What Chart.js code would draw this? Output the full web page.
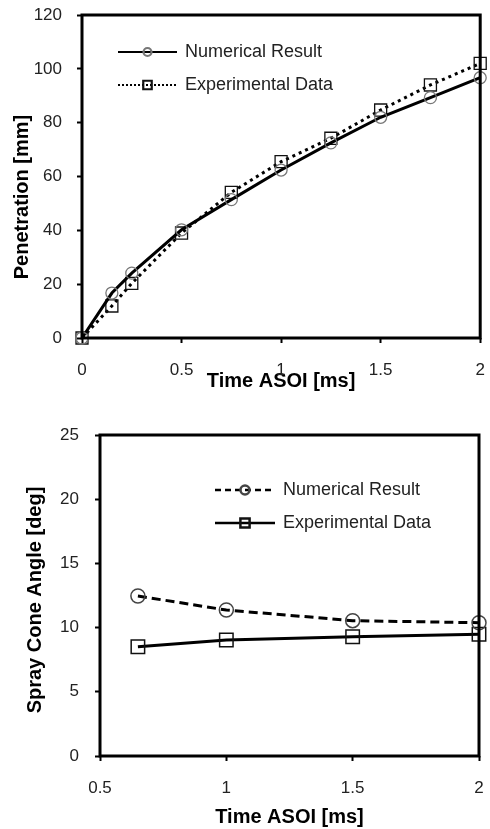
<!DOCTYPE html>
<html lang="en">
<head>
<meta charset="UTF-8">
<title>Spray penetration and cone angle</title>
<script src="https://cdn.jsdelivr.net/npm/chart.js"></script>
<style>
  body { margin: 0; background: #fff; }
  .wrap { position: relative; width: 490px; height: 829px; overflow: hidden; }
  #penChart { position: absolute; left: 0; top: 0; }
  #coneChart { position: absolute; left: 0; top: 410px; }
</style>
</head>
<body>
<div class="wrap">
  <canvas id="penChart" width="490" height="410"></canvas>
  <canvas id="coneChart" width="490" height="419"></canvas>
</div>
<script>
// tip penetration vs time after start of injection
const penTime = [0, 0.15, 0.25, 0.5, 0.75, 1, 1.25, 1.5, 1.75, 2];
const penNumerical = [0, 16.7, 24.1, 40.2, 51.4, 62.4, 72.5, 82.0, 89.3, 96.7];
const penExperimental = [0, 11.9, 20.3, 39.0, 54.1, 65.5, 74.2, 84.7, 94.0, 102.0];

// spray cone angle vs time
const coneTime = [0.65, 1, 1.5, 2];
const coneNumerical = [12.46, 11.37, 10.54, 10.38];
const coneExperimental = [8.51, 9.03, 9.29, 9.48];

const seriesNames = ['Numerical Result', 'Experimental Data'];

const FONT = '"Liberation Sans", Arial, sans-serif';

function pairs(xs, ys) {
  return xs.map((x, i) => ({ x: x, y: ys[i] }));
}

// black frame around the plot area
const frame = {
  id: 'frame',
  afterDraw(chart) {
    const { ctx, chartArea: a } = chart;
    ctx.save();
    ctx.lineWidth = 3;
    ctx.strokeStyle = '#000';
    ctx.strokeRect(a.left, a.top, a.right - a.left, a.bottom - a.top);
    ctx.restore();
  }
};

// rotated y axis title
const yTitle = {
  id: 'yTitle',
  afterDraw(chart, args, opts) {
    const ctx = chart.ctx;
    ctx.save();
    ctx.translate(opts.x, opts.y);
    ctx.rotate(-Math.PI / 2);
    ctx.font = 'bold 20px ' + FONT;
    ctx.fillStyle = '#000';
    ctx.textAlign = 'center';
    ctx.textBaseline = 'middle';
    ctx.fillText(opts.text, 0, 0);
    ctx.restore();
  }
};

// legend with a short line and marker for every dataset
const lineLegend = {
  id: 'lineLegend',
  afterDraw(chart, args, opts) {
    const ctx = chart.ctx;
    ctx.save();
    chart.data.datasets.forEach((ds, i) => {
      const y = opts.y + i * opts.rowGap;
      ctx.beginPath();
      ctx.setLineDash(opts.dash[i]);
      ctx.lineWidth = opts.lineWidth;
      ctx.strokeStyle = ds.borderColor;
      ctx.moveTo(opts.x, y);
      ctx.lineTo(opts.x + opts.lineLength, y);
      ctx.stroke();
      ctx.setLineDash([]);
      ctx.strokeStyle = ds.pointBorderColor;
      ctx.fillStyle = 'rgba(0,0,0,0)';
      Chart.helpers.drawPoint(ctx, {
        pointStyle: ds.pointStyle,
        radius: opts.markerRadius[i],
        rotation: 0,
        borderWidth: 1.3
      }, opts.x + opts.lineLength / 2, y);
      ctx.fillStyle = '#222';
      ctx.font = '18px ' + FONT;
      ctx.textAlign = 'left';
      ctx.textBaseline = 'middle';
      ctx.fillText(ds.label, opts.x + opts.lineLength + opts.textGap, y);
    });
    ctx.restore();
  }
};

function axisX(min, max, height, titlePad) {
  return {
    type: 'linear',
    min: min,
    max: max,
    ticks: {
      stepSize: 0.5,
      padding: 17,
      color: '#222',
      font: { family: FONT, size: 17 },
      callback: (v) => String(v)
    },
    grid: { drawOnChartArea: false, drawTicks: true, tickLength: 5, tickColor: '#000', tickWidth: 2 },
    border: { display: false },
    title: {
      display: true,
      text: 'Time ASOI [ms]',
      color: '#000',
      font: { family: FONT, size: 20, weight: 'bold' },
      padding: { top: 0, bottom: titlePad }
    },
    afterFit(scale) {
      scale.height = height;
      scale.paddingLeft = 0;
      scale.paddingRight = 0;
    }
  };
}

function axisY(min, max, step, width, pad) {
  return {
    min: min,
    max: max,
    ticks: { stepSize: step, padding: pad, color: '#222', font: { family: FONT, size: 17 } },
    grid: { drawOnChartArea: false, drawTicks: true, tickLength: 5, tickColor: '#000', tickWidth: 2 },
    border: { display: false },
    afterFit(scale) {
      scale.width = width;
      scale.paddingTop = 0;
      scale.paddingBottom = 0;
    }
  };
}

new Chart(document.getElementById('penChart'), {
  type: 'line',
  data: {
    datasets: [
      {
        label: seriesNames[0],
        data: pairs(penTime, penNumerical),
        borderColor: '#000',
        borderWidth: 3,
        pointStyle: 'circle',
        pointRadius: 6,
        pointBorderColor: '#777',
        pointBorderWidth: 1.3,
        pointBackgroundColor: 'rgba(0,0,0,0)',
        tension: 0,
        clip: false
      },
      {
        label: seriesNames[1],
        data: pairs(penTime, penExperimental),
        borderColor: '#000',
        borderWidth: 3,
        borderDash: [3, 4],
        pointStyle: 'rect',
        pointRadius: 8.5,
        pointBorderColor: '#111',
        pointBorderWidth: 1.3,
        pointBackgroundColor: 'rgba(0,0,0,0)',
        tension: 0,
        clip: false
      }
    ]
  },
  options: {
    responsive: false,
    animation: false,
    layout: { padding: { top: 15, right: 2, left: 0, bottom: 0 } },
    scales: {
      x: axisX(0, 2, 72, 17),
      y: axisY(0, 120, 20, 82, 15)
    },
    plugins: {
      legend: { display: false },
      tooltip: { enabled: false },
      yTitle: { text: 'Penetration [mm]', x: 22, y: 197 },
      lineLegend: {
        x: 118, y: 52, rowGap: 33, lineLength: 59, textGap: 8, lineWidth: 2.2,
        dash: [[], [2, 2]], markerRadius: [4, 6]
      }
    }
  },
  plugins: [frame, yTitle, lineLegend]
});

new Chart(document.getElementById('coneChart'), {
  type: 'line',
  data: {
    datasets: [
      {
        label: seriesNames[0],
        data: pairs(coneTime, coneNumerical),
        borderColor: '#000',
        borderWidth: 3,
        borderDash: [9, 5],
        pointStyle: 'circle',
        pointRadius: 7,
        pointBorderColor: '#444',
        pointBorderWidth: 1.5,
        pointBackgroundColor: 'rgba(0,0,0,0)',
        tension: 0,
        clip: false
      },
      {
        label: seriesNames[1],
        data: pairs(coneTime, coneExperimental),
        borderColor: '#000',
        borderWidth: 3,
        pointStyle: 'rect',
        pointRadius: 9.5,
        pointBorderColor: '#111',
        pointBorderWidth: 1.5,
        pointBackgroundColor: 'rgba(0,0,0,0)',
        tension: 0,
        clip: false
      }
    ]
  },
  options: {
    responsive: false,
    animation: false,
    layout: { padding: { top: 25, right: 8, left: 0, bottom: 0 } },
    scales: {
      x: axisX(0.5, 2, 73, 0),
      y: axisY(0, 25, 5, 100, 16)
    },
    plugins: {
      legend: { display: false },
      tooltip: { enabled: false },
      yTitle: { text: 'Spray Cone Angle [deg]', x: 35, y: 190 },
      lineLegend: {
        x: 215, y: 80, rowGap: 33, lineLength: 60, textGap: 8, lineWidth: 2.5,
        dash: [[6, 4], []], markerRadius: [4.5, 6.5]
      }
    }
  },
  plugins: [frame, yTitle, lineLegend]
});
</script>
</body>
</html>
